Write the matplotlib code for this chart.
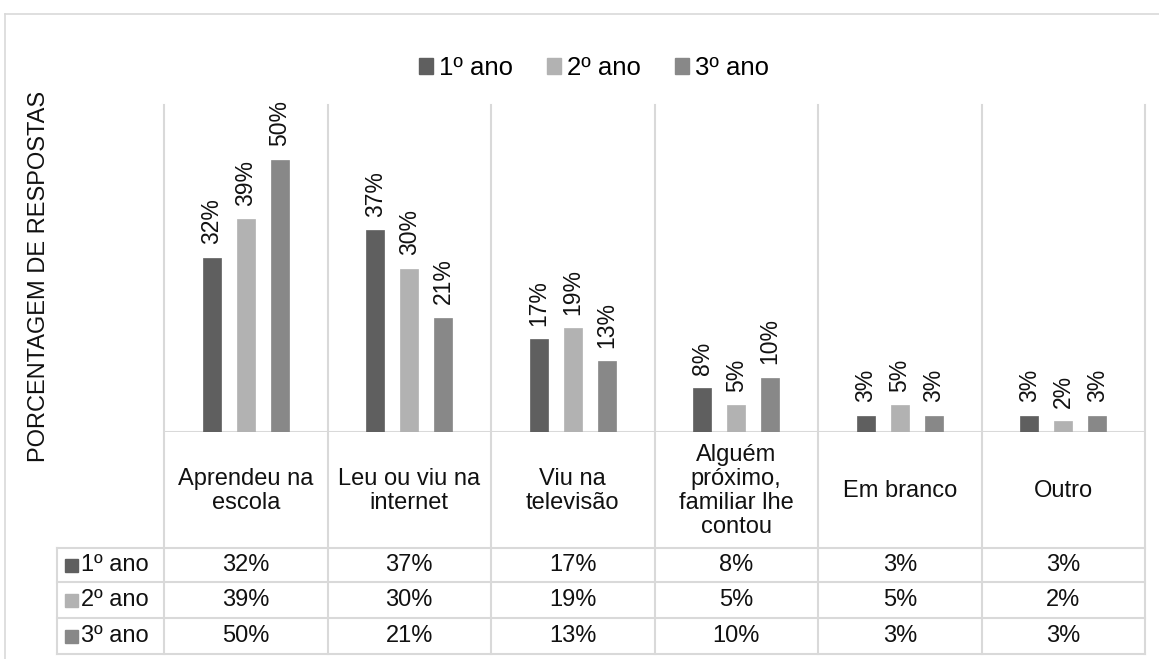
import matplotlib
matplotlib.use("Agg")
import matplotlib.pyplot as plt
from matplotlib.patches import Patch
from matplotlib.lines import Line2D
import numpy as np

plt.rcParams['font.family'] = ['Liberation Sans', 'DejaVu Sans']

categories = ["Aprendeu na\nescola", "Leu ou viu na\ninternet", "Viu na\ntelevisão",
              "Alguém\npróximo,\nfamiliar lhe\ncontou", "Em branco", "Outro"]
series_names = ["1º ano", "2º ano", "3º ano"]
ano1 = [32, 37, 17, 8, 3, 3]
ano2 = [39, 30, 19, 5, 5, 2]
ano3 = [50, 21, 13, 10, 3, 3]
colors = ["#5f5f5f", "#b2b2b2", "#888888"]
ylabel = "PORCENTAGEM DE RESPOSTAS"

series = [ano1, ano2, ano3]
W, H = 1159, 659
fig = plt.figure(figsize=(W / 100, H / 100), dpi=100)
GRID = "#d9d9d9"
TXT = "#111111"
FS = 17

def fx(px):
    return px / W

def fy(py):
    return 1 - py / H

left, right = 164, 1145
base, top = 432, 105
hdr_bot = 548
tbl_bot = 654
tleft = 57

# chart border (extends beyond image)
fig.add_artist(Line2D([fx(5), 1.0], [fy(14), fy(14)], transform=fig.transFigure, color=GRID, lw=1.2))
fig.add_artist(Line2D([fx(5), fx(5)], [fy(14), 0.0], transform=fig.transFigure, color=GRID, lw=1.2))

ax = fig.add_axes([fx(left), fy(base), fx(right - left), fy(top) - fy(base)])
n = len(categories)
x = np.arange(n) + 0.5
bw = 0.11
offs = [-0.207, 0, 0.207]
for i, (vals, c) in enumerate(zip(series, colors)):
    bars = ax.bar(x + offs[i], vals, width=bw, color=c, edgecolor=c, lw=0.5, zorder=3,
                  label=series_names[i])
    for b, v in zip(bars, vals):
        ax.annotate(f"{v}%", (b.get_x() + b.get_width() / 2, v), xytext=(0, 9.5),
                    textcoords="offset points", rotation=90, ha="center", va="bottom",
                    fontsize=16.5, color=TXT)
ax.set_xlim(0, n)
ax.set_ylim(0, 60)
ax.axis("off")
ax.axhline(0, color=GRID, lw=1.5, zorder=2)

# vertical grid lines through chart, header and table
for k in range(n + 1):
    xx = fx(left + k * (right - left) / n)
    fig.add_artist(Line2D([xx, xx], [fy(top), fy(tbl_bot)], transform=fig.transFigure,
                          color=GRID, lw=1.5, zorder=0))

# category header
for k, cat in enumerate(categories):
    cx = fx(left + (k + 0.5) * (right - left) / n)
    fig.text(cx, fy((base + hdr_bot) / 2 + 1), cat, ha="center", va="center", fontsize=FS,
             linespacing=1.1, color=TXT)

# data table
rows = [548, 582, 618, 654]
for ry in rows:
    fig.add_artist(Line2D([fx(tleft), fx(right)], [fy(ry), fy(ry)], transform=fig.transFigure,
                          color=GRID, lw=1.5))
fig.add_artist(Line2D([fx(tleft), fx(tleft)], [fy(rows[0]), fy(rows[-1])], transform=fig.transFigure,
                      color=GRID, lw=1.5))
for r, (vals, c, name) in enumerate(zip(series, colors, series_names)):
    cy = fy((rows[r] + rows[r + 1]) / 2)
    fig.patches.append(plt.Rectangle((fx(65), cy - 6.5 / H), 13 / W, 13 / H,
                                     transform=fig.transFigure, color=c, figure=fig))
    fig.text(fx(81), cy, name, ha="left", va="center", fontsize=FS, color=TXT)
    for k, v in enumerate(vals):
        cx = fx(left + (k + 0.5) * (right - left) / n)
        fig.text(cx, cy, f"{v}%", ha="center", va="center", fontsize=FS, color=TXT)

# y label
fig.text(fx(39), fy(276), ylabel, rotation=90, ha="center", va="center", fontsize=17,
         color=TXT)

# legend
handles = [Patch(facecolor=c, edgecolor=c) for c in colors]
fig.legend(handles, series_names, loc="center", bbox_to_anchor=(fx(594), fy(68)), ncol=3,
           frameon=False, fontsize=18.5, handlelength=0.55, handleheight=0.55,
           handletextpad=0.25, columnspacing=1.3)

fig.savefig("out.png", dpi=100, facecolor="white")
